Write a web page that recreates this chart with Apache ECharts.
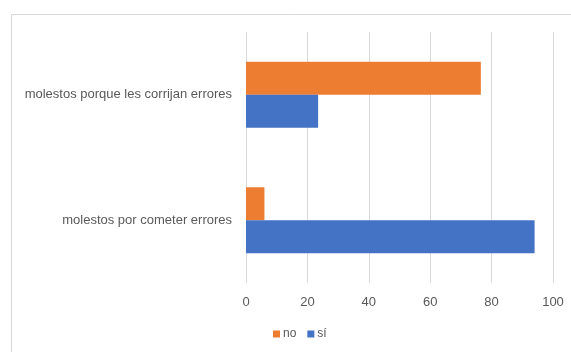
<!DOCTYPE html>
<html>
<head>
<meta charset="utf-8">
<style>
  html, body { margin: 0; padding: 0; background: #ffffff; }
  #chart { width: 571px; height: 352px; }
</style>
<script src="https://cdn.jsdelivr.net/npm/echarts@6/dist/echarts.min.js"></script>
</head>
<body>
<div id="chart"></div>
<script>
// Categories listed bottom-to-top along the vertical category axis
const categories = ['molestos por cometer errores', 'molestos porque les corrijan errores'];
// Percentages for each answer
const noValues = [6, 76.5];
const siValues = [94, 23.5];
const legendOrder = ['no', 'sí'];

const textColor = '#595959';
const fontFamily = 'Liberation Sans, Arial, sans-serif';

const chart = echarts.init(document.getElementById('chart'), null, { renderer: 'canvas' });

chart.setOption({
  animation: false,
  backgroundColor: '#ffffff',
  graphic: [{
    type: 'rect',
    shape: { x: 11.5, y: 14.5, width: 620, height: 400 },
    style: { fill: 'none', stroke: '#d9d9d9', lineWidth: 1 },
    silent: true,
    z: -1
  }],
  grid: { left: 246, right: 18, top: 32, bottom: 69, containLabel: false },
  legend: {
    data: legendOrder,
    left: 268,
    top: 323,
    icon: 'rect',
    itemWidth: 7,
    itemHeight: 7,
    itemGap: 11,
    textStyle: { color: textColor, fontSize: 12, fontFamily: fontFamily, padding: [0, 0, 0, -2] }
  },
  xAxis: {
    type: 'value',
    min: 0,
    max: 100,
    interval: 20,
    axisLine: { show: false },
    axisTick: { show: false },
    splitLine: { show: true, lineStyle: { color: '#d9d9d9', width: 1 } },
    axisLabel: { color: textColor, fontSize: 13, fontFamily: fontFamily, margin: 13 }
  },
  yAxis: {
    type: 'category',
    data: categories,
    axisLine: { show: false },
    axisTick: { show: false },
    splitLine: { show: false },
    axisLabel: { color: textColor, fontSize: 13, fontFamily: fontFamily, margin: 14, padding: [3, 0, 0, 0] }
  },
  series: [
    {
      name: 'no',
      type: 'bar',
      data: noValues,
      barWidth: 33,
      barGap: '0%',
      itemStyle: { color: '#ED7D31' }
    },
    {
      name: 'sí',
      type: 'bar',
      data: siValues,
      barWidth: 33,
      barGap: '0%',
      itemStyle: { color: '#4472C4' }
    }
  ]
});
</script>
</body>
</html>
